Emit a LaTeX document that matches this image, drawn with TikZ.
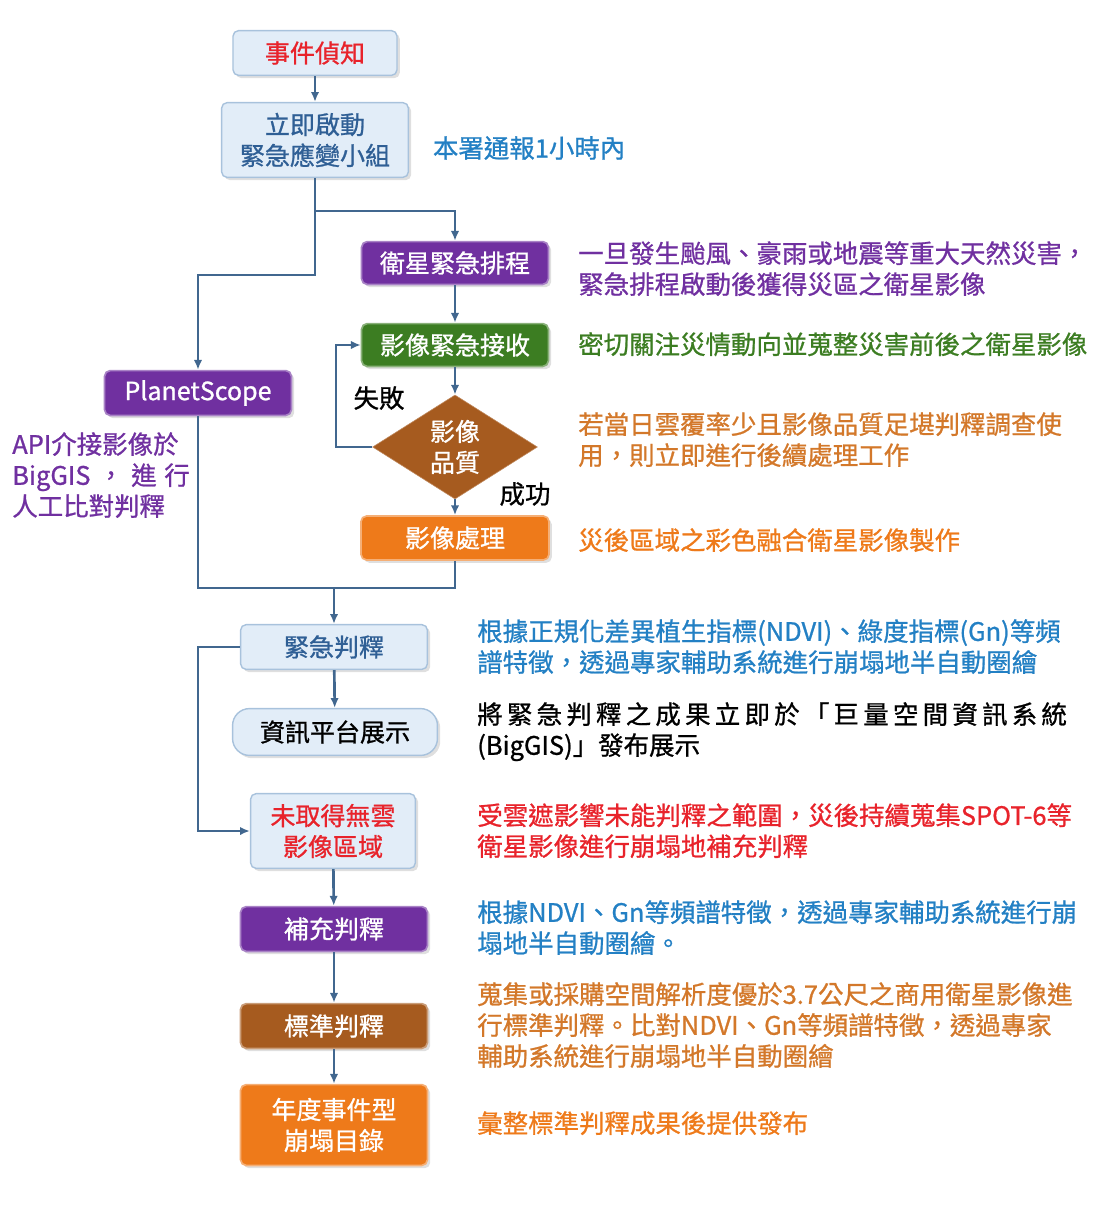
\documentclass[tikz,border=0pt]{standalone}
\usepackage{fontspec}
\setmainfont{Noto Sans CJK TC}[FakeBold=0.9]
\usetikzlibrary{shapes.geometric,shadows,arrows.meta}
\definecolor{lineblue}{HTML}{41678F}
\definecolor{paleblue}{HTML}{E2EDF8}
\definecolor{edgeblue}{HTML}{A8C2DC}
\definecolor{darkblue}{HTML}{2F5F95}
\definecolor{skyblue}{HTML}{2380C4}
\definecolor{purp}{HTML}{7030A0}
\definecolor{grn}{HTML}{3C7D22}
\definecolor{brwn}{HTML}{A65B1F}
\definecolor{orng}{HTML}{EE7A1A}
\definecolor{ochre}{HTML}{D3782A}
\definecolor{redt}{HTML}{E8232B}
\newcommand{\boxfont}{\fontsize{17.8}{22}\selectfont}
\newcommand{\notefont}{\fontsize{18.1}{22}\selectfont}
\tikzset{
	base/.style={rounded corners=4pt, minimum height=1.12cm, align=center, font=\boxfont,
		drop shadow={opacity=.25, shadow xshift=2pt, shadow yshift=-2pt}},
	pale/.style={base, fill=paleblue, draw=edgeblue, line width=1pt, text=darkblue},
	solid/.style={base, fill=#1, draw=#1!60!white, line width=1.2pt, text=white},
	note/.style={anchor=north west, align=left, font=\notefont, inner sep=0pt},
	flow/.style={draw=lineblue, line width=1.9pt, -{Latex[length=7pt,width=6pt]}},
	link/.style={draw=lineblue, line width=1.9pt}
}
\begin{document}
\begin{tikzpicture}[x=0.025cm, y=-0.025cm]
	\useasboundingbox (0,0) rectangle (1111,1210);
	% left column
	\node (detect) [pale, text=redt, minimum width=4.1cm] at (315,53) {事件偵知};
	\node (team) [pale, minimum width=4.67cm, minimum height=1.87cm] at (315,140) {立即啟動\\緊急應變小組};
	\node (planet) [solid=purp, minimum width=4.67cm] at (198,393) {PlanetScope};
	% right column
	\node (sched) [solid=purp, minimum width=4.67cm, minimum height=1.07cm] at (455,263) {衛星緊急排程};
	\node (recv) [solid=grn, minimum width=4.67cm, minimum height=1.07cm] at (455,345) {影像緊急接收};
	\node (quality) [diamond, fill=brwn, draw=brwn!70!white, text=white, font=\boxfont, inner sep=0pt,
		minimum width=4.12cm, minimum height=2.25cm, align=center] at (455,447) {影像\\品質};
	\node (proc) [solid=orng, minimum width=4.7cm, minimum height=1.1cm] at (455,538) {影像處理};
	% lower column
	\node (judge) [pale, minimum width=4.67cm] at (334,647) {緊急判釋};
	\node (show) [pale, text=black, rounded corners=12pt, minimum width=5.12cm, minimum height=1.17cm] at (335,732) {資訊平台展示};
	\node (cloud) [pale, text=redt, minimum width=4.12cm, minimum height=1.87cm] at (333,831) {未取得無雲\\影像區域};
	\node (extra) [solid=purp, minimum width=4.67cm] at (334,929) {補充判釋};
	\node (std) [solid=brwn, minimum width=4.67cm] at (334,1026) {標準判釋};
	\node (year) [solid=orng, minimum width=4.67cm, minimum height=2.02cm] at (334,1125) {年度事件型\\崩塌目錄};
	% connectors
	\coordinate (split) at (315,211);
	\coordinate (join) at (334,588);
	\draw [flow] (detect) -- (team);
	\draw [flow] (team.south) -- (split) -| (sched.north);
	\draw [flow] (split) -- (315,275) -| (planet.north);
	\draw [flow] (sched) -- (recv);
	\draw [flow] (recv) -- (quality);
	\draw [flow] (quality.west) -| (336,345) -- (recv.west);
	\draw [flow] (quality) -- (proc);
	\draw [link] (planet.south) |- (join) -| (proc.south);
	\draw [flow] (join) -- (judge);
	\draw [flow] (judge) -- (show);
	\draw [flow] (judge.west) -| (198,831) -- (cloud.west);
	\draw [flow] (cloud) -- (extra);
	\draw [flow] (extra) -- (std);
	\draw [flow] (std) -- (year);
	% labels
	\node (fail) [font=\notefont] at (379,398) {失敗};
	\node (ok) [font=\notefont] at (525,494) {成功};
	\node (hour) [font=\notefont, text=skyblue, anchor=west] at (428,148) {本署通報1小時內};
	\node (api) [note, text=purp] at (12,432) {API介接影像於\\BigGIS\hspace{0.3em}，\hspace{0.3em}進\hspace{0.3em}行\\人工比對判釋};
	\node (n1) [note, text=purp] at (578,241) {一旦發生颱風、豪雨或地震等重大天然災害，\\緊急排程啟動後獲得災區之衛星影像};
	\node (n2) [note, text=grn] at (578,332) {密切關注災情動向並蒐整災害前後之衛星影像};
	\node (n3) [note, text=ochre] at (578,412) {若當日雲覆率少且影像品質足堪判釋調查使\\用，則立即進行後續處理工作};
	\node (n4) [note, text=orng] at (578,528) {災後區域之彩色融合衛星影像製作};
	\node (n5) [note, text=skyblue] at (477,619) {根據正規化差異植生指標(NDVI)、綠度指標(Gn)等頻\\譜特徵，透過專家輔助系統進行崩塌地半自動圈繪};
	\node (n6) [note, text=black] at (477,702) {將\,緊\,急\,判\,釋\,之\,成\,果\,立\,即\,於\,「\,巨\,量\,空\,間\,資\,訊\,系\,統\\(BigGIS)」發布展示};
	\node (n7) [note, text=redt] at (477,803) {受雲遮影響未能判釋之範圍，災後持續蒐集SPOT-6等\\衛星影像進行崩塌地補充判釋};
	\node (n8) [note, text=skyblue] at (477,900) {根據NDVI、Gn等頻譜特徵，透過專家輔助系統進行崩\\塌地半自動圈繪。};
	\node (n9) [note, text=ochre] at (477,982) {蒐集或採購空間解析度優於3.7公尺之商用衛星影像進\\行標準判釋。比對NDVI、Gn等頻譜特徵，透過專家\\輔助系統進行崩塌地半自動圈繪};
	\node (n10) [note, text=orng] at (477,1111) {彙整標準判釋成果後提供發布};
\end{tikzpicture}
\end{document}
